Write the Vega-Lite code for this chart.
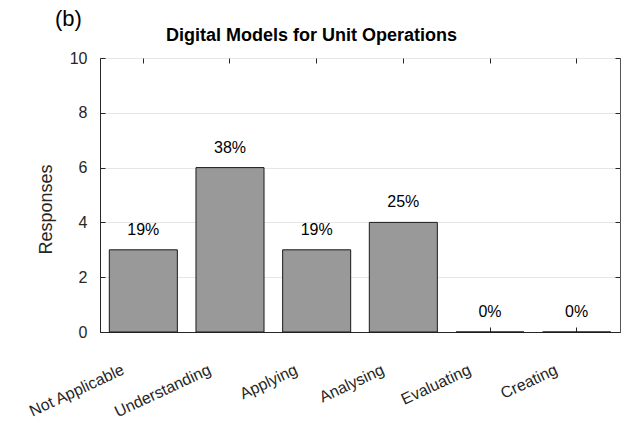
{
  "$schema": "https://vega.github.io/schema/vega-lite/v6.json",
  "width": 520,
  "height": 274,
  "autosize": {"type": "none"},
  "padding": {"left": 100, "top": 58, "right": 8, "bottom": 97},
  "title": {"text": "(b)", "anchor": "start", "frame": "group", "dx": -45, "dy": 8, "fontSize": 22, "fontWeight": "normal", "color": "#000000", "font": "Liberation Sans"},
  "data": {
    "values": [
      {"level": "Not Applicable", "responses": 3, "pct": "19%"},
      {"level": "Understanding", "responses": 6, "pct": "38%"},
      {"level": "Applying", "responses": 3, "pct": "19%"},
      {"level": "Analysing", "responses": 4, "pct": "25%"},
      {"level": "Evaluating", "responses": 0, "pct": "0%"},
      {"level": "Creating", "responses": 0, "pct": "0%"}
    ]
  },
  "layer": [
    {
      "mark": {"type": "bar", "fill": "#999999", "stroke": "#1a1a1a", "strokeWidth": 1},
      "encoding": {
        "x": {
          "field": "level", "type": "nominal", "sort": null,
          "scale": {"paddingInner": 0.215, "paddingOuter": 0.1075},
          "axis": {
            "orient": "bottom", "title": null, "labelAngle": -25, "labelAlign": "right", "labelBaseline": "alphabetic",
            "labelFontSize": 16, "labelColor": "#262626", "labelPadding": 46, "labelOffset": -18,
            "tickSize": -5, "tickColor": "#262626", "domainColor": "#262626", "grid": false
          }
        },
        "y": {
          "field": "responses", "type": "quantitative",
          "scale": {"domain": [0, 10], "nice": false},
          "axis": {
            "orient": "left", "title": "Responses", "titleFontSize": 18, "titleFontWeight": "normal", "titleColor": "#262626",
            "titlePadding": 14, "titleY": 151, "values": [0, 2, 4, 6, 8, 10], "labelFontSize": 16, "labelColor": "#262626", "labelPadding": 18,
            "tickSize": -5, "tickColor": "#262626", "domainColor": "#262626",
            "grid": true, "gridColor": "#e6e6e6"
          }
        }
      }
    },
    {
      "mark": {"type": "text", "dy": -20, "fontSize": 16, "color": "#000000"},
      "encoding": {
        "x": {
          "field": "level", "type": "nominal", "sort": null,
          "scale": {"paddingInner": 0.215, "paddingOuter": 0.1075},
          "axis": {
            "orient": "top", "labels": false, "title": "Digital Models for Unit Operations", "titleFontSize": 18,
            "titleFontWeight": "bold", "titleColor": "#000000", "titleX": 211, "titlePadding": 13,
            "tickSize": -5, "tickColor": "#262626", "domain": false, "grid": false
          }
        },
        "y": {
          "field": "responses", "type": "quantitative",
          "scale": {"domain": [0, 10], "nice": false},
          "axis": {
            "orient": "right", "labels": false, "title": null, "values": [0, 2, 4, 6, 8, 10],
            "tickSize": -5, "tickColor": "#262626", "domain": false, "grid": false
          }
        },
        "text": {"field": "pct"}
      }
    }
  ],
  "resolve": {"axis": {"x": "independent", "y": "independent"}},
  "config": {"view": {"stroke": "#555555"}, "font": "Liberation Sans"}
}
